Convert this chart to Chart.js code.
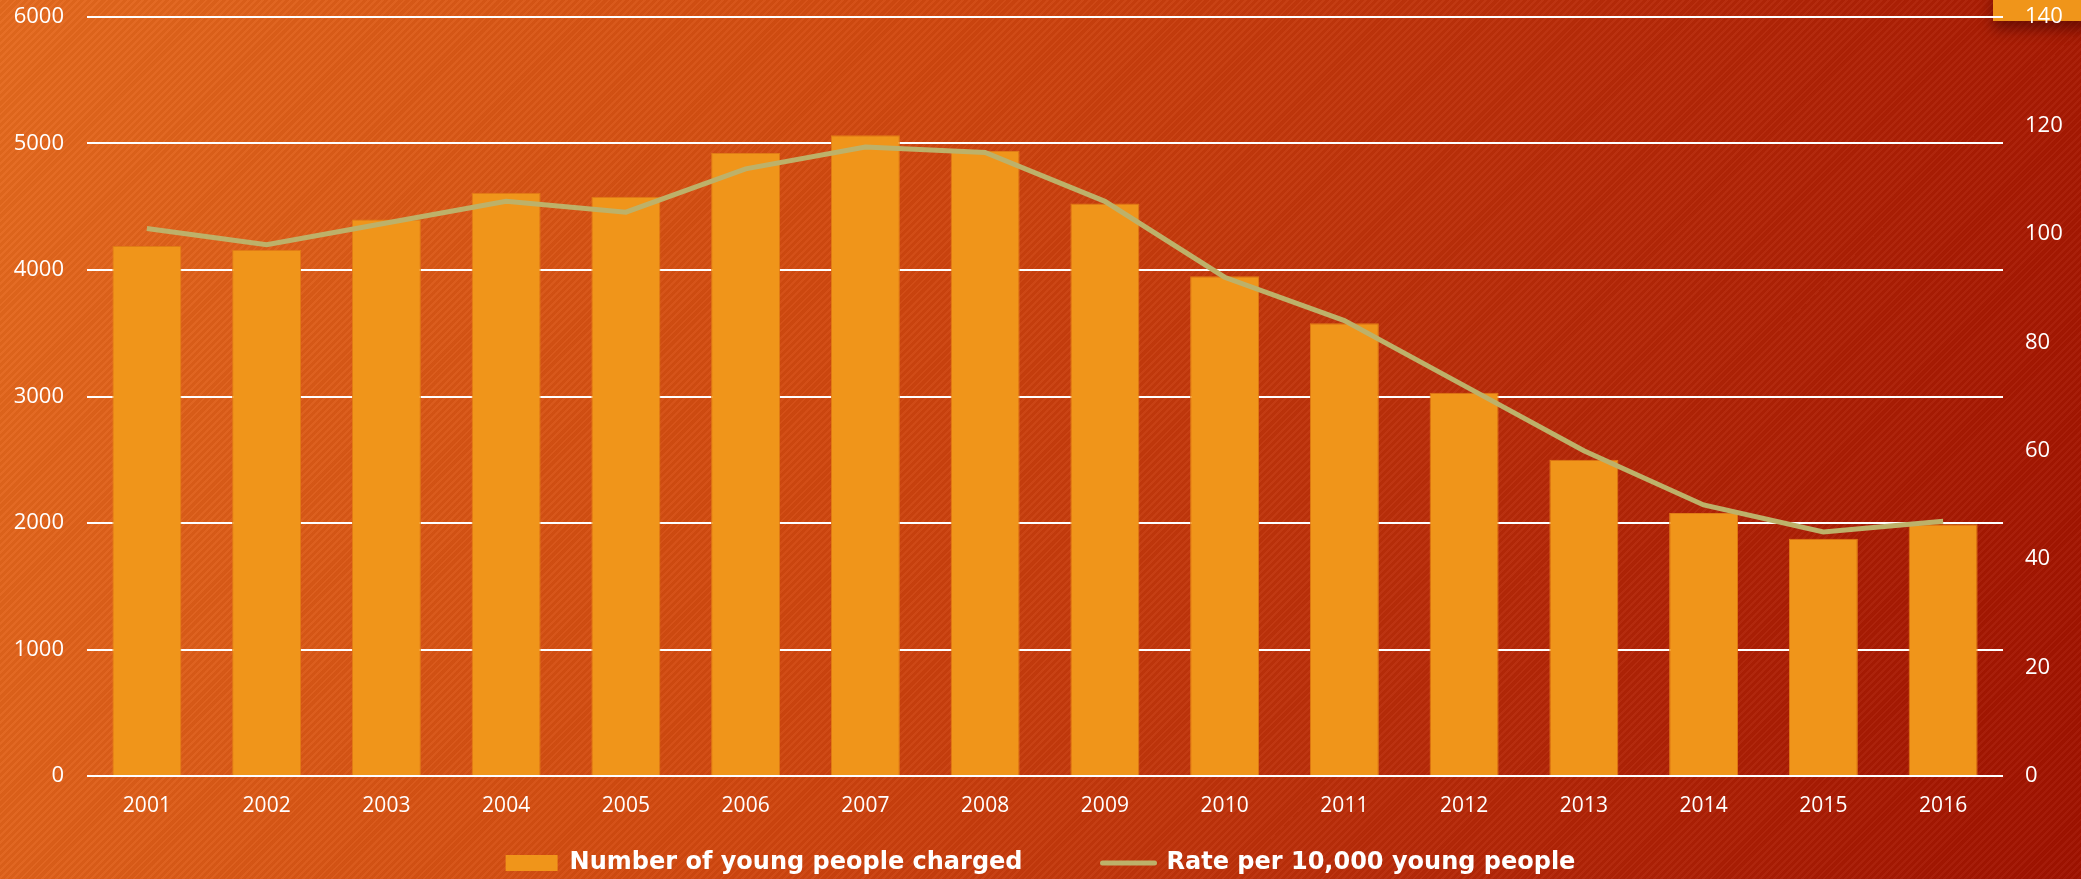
<!DOCTYPE html>
<html>
<head>
<meta charset="utf-8">
<script src="https://cdn.jsdelivr.net/npm/chart.js@4"></script>
<style>
  html, body { margin: 0; padding: 0; }
  body {
    width: 2081px; height: 879px; overflow: hidden;
    background:
      repeating-linear-gradient(135deg, rgba(255,255,255,0.035) 0px, rgba(255,255,255,0.035) 2px, rgba(0,0,0,0.03) 2px, rgba(0,0,0,0.03) 5px),
      linear-gradient(105deg, #e56a1e 0%, #d1480f 40%, #b82a08 70%, #a01200 100%);
  }
  #wrap { position: absolute; left: 0; top: 0; width: 2081px; height: 879px; }
</style>
</head>
<body>
<div id="wrap"><canvas id="youthChart" width="2081" height="879"></canvas></div>
<script>
// Young people charged, 2001-2016

const years = ["2001", "2002", "2003", "2004", "2005", "2006", "2007", "2008",
  "2009", "2010", "2011", "2012", "2013", "2014", "2015", "2016"];

const chargedCount = [4190, 4160, 4400, 4610, 4580, 4925, 5065, 4940,
  4525, 3950, 3580, 3030, 2500, 2080, 1875, 1990];

const ratePer10k = [101, 98, 102, 106, 104, 112, 116, 115,
  106, 92, 84, 72, 60, 50, 45, 47];

const colors = {
  bar: "#f0951a",
  barEdge: "#e07c16",
  line: "#bdb16a",
  text: "#ffffff",
  grid: "#ffffff",
};

const xTickFont = { family: "'Open Sans', sans-serif", size: 21 };
const yTickFont = { family: "'Open Sans', sans-serif", size: 22 };

// orange tab in the top right corner, sits behind the "140" label
const cornerTab = {
  id: "cornerTab",
  beforeDraw(chart) {
    const ctx = chart.ctx;
    ctx.save();
    ctx.shadowColor = "rgba(60,0,0,0.55)";
    ctx.shadowBlur = 14;
    ctx.shadowOffsetY = 8;
    ctx.fillStyle = colors.bar;
    ctx.fillRect(1993, -10, 100, 31);
    ctx.restore();
  },
};

// vertical axes: no extra room above/below, layout padding handles it
function noVerticalPad(scale, width) {
  scale.width = width;
  scale.paddingTop = 0;
  scale.paddingBottom = 0;
}

function legendItems(chart) {
  const bar = chart.data.datasets[1];
  const line = chart.data.datasets[0];
  return [
    {
      text: bar.label, fillStyle: bar.backgroundColor, strokeStyle: bar.backgroundColor,
      lineWidth: 0, pointStyle: "rect", fontColor: colors.text, datasetIndex: 1,
    },
    // empty item, only widens the gap between the two entries
    {
      text: "", fillStyle: "rgba(0,0,0,0)", strokeStyle: "rgba(0,0,0,0)",
      lineWidth: 0, pointStyle: "rect", fontColor: colors.text,
    },
    {
      text: line.label, fillStyle: line.borderColor, strokeStyle: line.borderColor,
      lineWidth: 5, lineCap: "round", pointStyle: "line", fontColor: colors.text, datasetIndex: 0,
    },
  ];
}

const ctx = document.getElementById("youthChart").getContext("2d");

new Chart(ctx, {
  type: "bar",
  data: {
    labels: years,
    datasets: [
      {
        type: "line",
        label: "Rate per 10,000 young people",
        data: ratePer10k,
        yAxisID: "yRate",
        borderColor: colors.line,
        backgroundColor: colors.line,
        borderWidth: 5,
        pointRadius: 0,
        tension: 0,
        order: 0,
      },
      {
        type: "bar",
        label: "Number of young people charged",
        data: chargedCount,
        yAxisID: "yCount",
        backgroundColor: colors.bar,
        borderColor: colors.barEdge,
        borderWidth: 1,
        barPercentage: 0.576,
        categoryPercentage: 1,
        order: 1,
      },
    ],
  },
  options: {
    responsive: false,
    animation: false,
    layout: { padding: { top: 17, bottom: 0, left: 0, right: 0 } },
    plugins: {
      tooltip: { enabled: false },
      legend: {
        position: "bottom",
        maxHeight: 36,
        labels: {
          color: colors.text,
          font: { family: "'DejaVu Sans', sans-serif", size: 24, weight: "bold" },
          usePointStyle: true,
          pointStyleWidth: 52,
          boxHeight: 16,
          padding: 8,
          generateLabels: legendItems,
        },
      },
    },
    scales: {
      x: {
        grid: { display: false, drawTicks: false },
        border: { display: false },
        ticks: { color: colors.text, font: xTickFont, padding: 17, maxRotation: 0 },
        afterFit(scale) { scale.height = 67; },
      },
      yCount: {
        position: "left",
        min: 0,
        max: 6000,
        ticks: {
          stepSize: 1000, color: colors.text, font: yTickFont, padding: 23,
          callback: (v) => String(v),
        },
        grid: { color: colors.grid, lineWidth: 2, drawTicks: false },
        border: { display: false },
        afterFit(scale) { noVerticalPad(scale, 87); },
      },
      yRate: {
        position: "right",
        min: 0,
        max: 140,
        ticks: {
          stepSize: 20, color: colors.text, font: yTickFont, padding: 22,
          callback: (v) => String(v),
        },
        grid: { display: false, drawTicks: false },
        border: { display: false },
        afterFit(scale) { noVerticalPad(scale, 78); },
      },
    },
  },
  plugins: [cornerTab],
});
</script>
</body>
</html>
